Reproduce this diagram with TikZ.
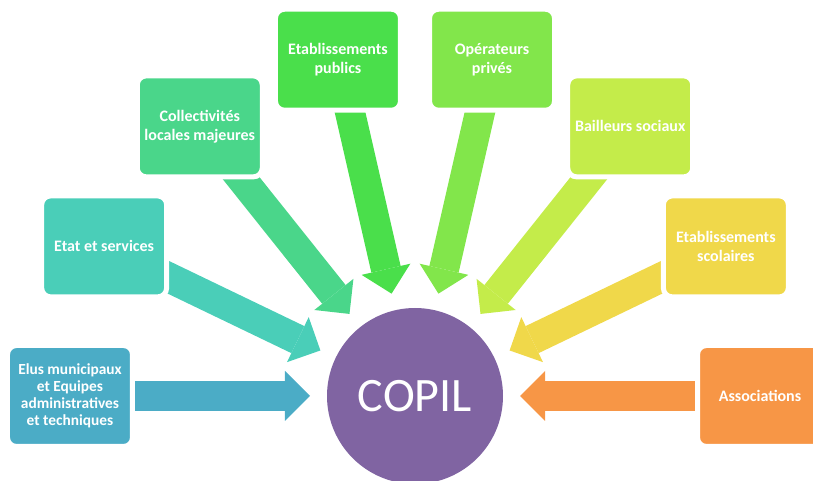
\documentclass[tikz,border=0pt]{standalone}
\usepackage{fontspec}
\setmainfont{Carlito}
\usetikzlibrary{arrows.meta}
\pgfdeclarelayer{background}
\pgfsetlayers{background,main}

\definecolor{elusc}{HTML}{4BACC6}
\definecolor{etatc}{HTML}{4ACEB8}
\definecolor{collc}{HTML}{4AD68A}
\definecolor{publc}{HTML}{4ADF4B}
\definecolor{operc}{HTML}{82E64B}
\definecolor{baillc}{HTML}{C4EC4A}
\definecolor{scolc}{HTML}{F0D84A}
\definecolor{assocc}{HTML}{F79646}
\definecolor{copilc}{HTML}{8064A2}

\tikzset{
	actor/.style={rounded corners=9pt, fill=#1, draw=white, line width=5pt,
		minimum width=125pt, minimum height=101pt, inner sep=0pt,
		text=white, align=center, font=\bfseries\fontsize{16}{19}\selectfont},
	flow/.style={draw=#1, line width=30pt, shorten >=17pt,
		-{Triangle[width=50pt,length=25pt,line width=0pt]}}
}

\begin{document}
\begin{tikzpicture}[x=1pt,y=1pt]

	\useasboundingbox (-415,-85) rectangle (398,396);

	\node[circle, fill=copilc, minimum size=176pt, inner sep=0pt, outer sep=0pt,
		text=white, font=\fontsize{48}{50}\selectfont] (copil) at (0,0) {COPIL};

	\node[actor=elusc, font=\bfseries\fontsize{15.4}{17}\selectfont] (elus) at (180:345) {Elus municipaux\\et Equipes\\administratives\\et techniques};

	\node[actor=etatc] (etat) at (154.3:345) {Etat et services};

	\node[actor=collc] (coll) at (128.6:345) {Collectivités\\locales majeures};

	\node[actor=publc] (publ) at (102.9:345) {Etablissements\\publics};

	\node[actor=operc] (oper) at (77.1:345) {Opérateurs\\privés};

	\node[actor=baillc] (baill) at (51.4:345) {Bailleurs sociaux};

	\node[actor=scolc] (scol) at (25.7:345) {Etablissements\\scolaires};

	\node[actor=assocc] (assoc) at (0:345) {Associations};

	\begin{pgfonlayer}{background}
		\draw[flow=elusc]  (elus.center) -- (copil);
		\draw[flow=etatc]  (etat.center) -- (copil);
		\draw[flow=collc]  (coll.center) -- (copil);
		\draw[flow=publc]  (publ.center) -- (copil);
		\draw[flow=operc]  (oper.center) -- (copil);
		\draw[flow=baillc] (baill.center) -- (copil);
		\draw[flow=scolc]  (scol.center) -- (copil);
		\draw[flow=assocc] (assoc.center) -- (copil);
	\end{pgfonlayer}
\end{tikzpicture}
\end{document}
